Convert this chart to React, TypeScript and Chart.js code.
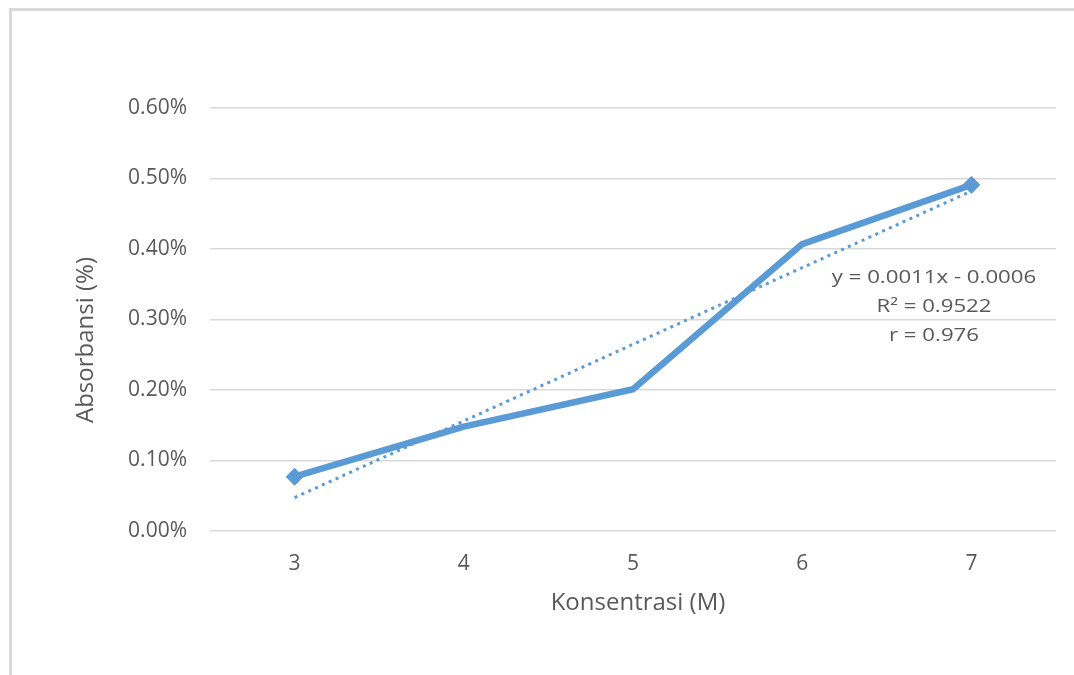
import React, { useEffect, useRef } from 'react';
import { Chart, registerables } from 'chart.js';

Chart.register(...registerables);

// ---- data ----
const categories: string[] = ['3', '4', '5', '6', '7'];
const absorbance: number[] = [0.00077, 0.00148, 0.00201, 0.00407, 0.00491];
const yMin = 0;
const yMax = 0.006;
const yStep = 0.001;
const xTitle = 'Konsentrasi (M)';
const yTitle = 'Absorbansi (%)';
const equationLines: string[] = ['y = 0.0011x - 0.0006', 'R\u00B2 = 0.9522', 'r = 0.976'];

// least-squares linear trendline (as Excel computes it), x = 1..n
function linearTrend(ys: number[]): number[] {
  const n = ys.length;
  const xs = ys.map((_, i) => i + 1);
  const mx = xs.reduce((a, b) => a + b, 0) / n;
  const my = ys.reduce((a, b) => a + b, 0) / n;
  let sxy = 0;
  let sxx = 0;
  for (let i = 0; i < n; i++) {
    sxy += (xs[i] - mx) * (ys[i] - my);
    sxx += (xs[i] - mx) * (xs[i] - mx);
  }
  const slope = sxy / sxx;
  const intercept = my - slope * mx;
  return xs.map((x) => intercept + slope * x);
}

const BLUE = '#5b9bd5';
const TEXT = '#595959';
const GRID = '#d9d9d9';
const FONT = '"Open Sans", "DejaVu Sans", sans-serif';

const annotatePlugin = {
  id: 'annotate',
  afterDraw(chart: any) {
    const ctx = chart.ctx as CanvasRenderingContext2D;
    ctx.save();
    ctx.fillStyle = TEXT;
    ctx.textAlign = 'center';
    ctx.textBaseline = 'middle';
    // axis titles
    ctx.font = `24px ${FONT}`;
    ctx.fillText(xTitle, 638, 603);
    ctx.save();
    ctx.translate(86, 340);
    ctx.rotate(-Math.PI / 2);
    ctx.fillText(yTitle, 0, 0);
    ctx.restore();
    // trendline label
    ctx.font = `17.5px ${FONT}`;
    const lineYs = [278, 307, 336];
    equationLines.forEach((t, i) => {
      ctx.save();
      ctx.translate(934, lineYs[i]);
      ctx.scale(1.27, 1);
      ctx.fillText(t, 0, 0);
      ctx.restore();
    });
    ctx.restore();
  },
};

export default function App() {
  const canvasRef = useRef<HTMLCanvasElement | null>(null);

  useEffect(() => {
    const canvas = canvasRef.current;
    if (!canvas) return;
    const trend = linearTrend(absorbance);
    const endMarkers = absorbance.map((_, i) => (i === 0 || i === absorbance.length - 1 ? 8.5 : 0));
    const chart = new Chart(canvas, {
      type: 'line',
      data: {
        labels: categories,
        datasets: [
          {
            label: 'Absorbansi',
            data: absorbance,
            borderColor: BLUE,
            backgroundColor: BLUE,
            borderWidth: 6.5,
            borderJoinStyle: 'round',
            tension: 0,
            pointStyle: 'rectRot',
            pointRadius: endMarkers,
            pointBackgroundColor: BLUE,
            pointBorderColor: BLUE,
            pointBorderWidth: 1,
            order: 2,
          },
          {
            label: 'Linear (Absorbansi)',
            data: trend,
            borderColor: BLUE,
            borderWidth: 3,
            borderDash: [3, 4.5],
            tension: 0,
            pointRadius: 0,
            order: 1,
          },
        ],
      },
      options: {
        responsive: false,
        animation: false,
        devicePixelRatio: 1,
        layout: { padding: { left: 12, right: 18, top: 108, bottom: 0 } },
        plugins: {
          legend: { display: false },
          tooltip: { enabled: false },
          title: { display: false },
        },
        scales: {
          x: {
            offset: true,
            grid: { display: false, drawTicks: false },
            border: { display: false },
            ticks: {
              color: TEXT,
              font: { family: FONT, size: 21 },
              padding: 20,
              maxRotation: 0,
            },
            afterFit: (scale: any) => {
              scale.height = 144;
            },
          },
          y: {
            min: yMin,
            max: yMax,
            grid: { color: GRID, lineWidth: 1.5, drawTicks: false },
            border: { display: false },
            ticks: {
              stepSize: yStep,
              color: TEXT,
              font: { family: FONT, size: 21 },
              padding: 23,
              callback: (v: any) => (Number(v) * 100).toFixed(2) + '%',
            },
            afterFit: (scale: any) => {
              scale.width = 198;
            },
          },
        },
      },
      plugins: [annotatePlugin],
    });
    return () => chart.destroy();
  }, []);

  return (
    <div
      style={{
        position: 'fixed',
        left: 0,
        top: 0,
        width: 1074,
        height: 675,
        background: '#ffffff',
        overflow: 'hidden',
      }}
    >
      <div
        style={{
          position: 'absolute',
          left: 9,
          top: 8,
          width: 1100,
          height: 700,
          borderLeft: `3px solid ${GRID}`,
          borderTop: `3px solid ${GRID}`,
          boxSizing: 'border-box',
        }}
      />
      <canvas
        ref={canvasRef}
        width={1074}
        height={675}
        style={{ position: 'absolute', left: 0, top: 0, display: 'block' }}
      />
    </div>
  );
}
